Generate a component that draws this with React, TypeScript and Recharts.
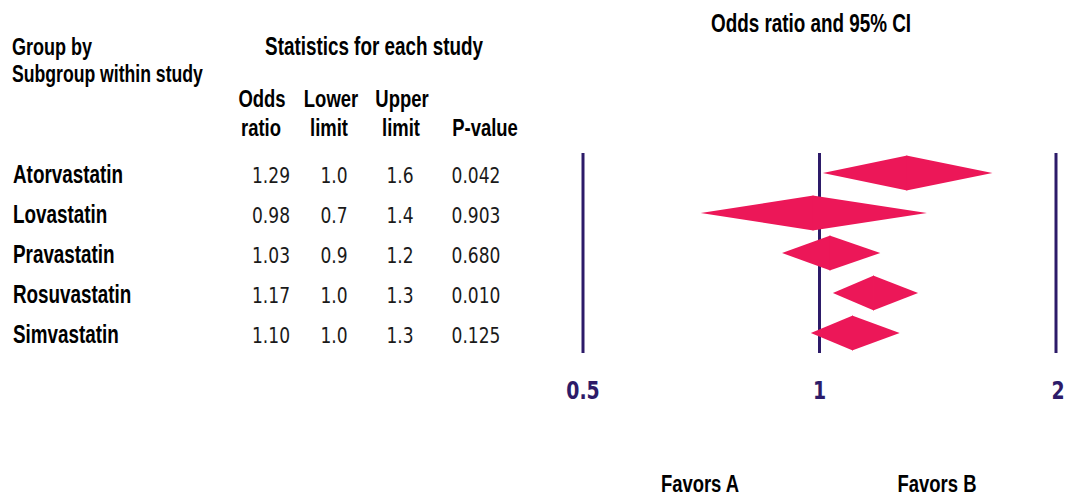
import React from 'react';
import { ComposedChart, XAxis, YAxis, CartesianGrid, ReferenceArea, Scatter } from 'recharts';

// rows of the forest plot
const studies = ['Atorvastatin', 'Lovastatin', 'Pravastatin', 'Rosuvastatin', 'Simvastatin'];

// diamond points as drawn in the picture
const oddsRatio = [1.29, 0.98, 1.03, 1.17, 1.1];
const lowerLimit = [1.01, 0.706, 0.896, 1.04, 0.975];
const upperLimit = [1.66, 1.37, 1.195, 1.335, 1.265];

// values printed in the table
const oddsText = ['1.29', '0.98', '1.03', '1.17', '1.10'];
const lowerText = ['1.0', '0.7', '0.9', '1.0', '1.0'];
const upperText = ['1.6', '1.4', '1.2', '1.3', '1.3'];
const pValues = ['0.042', '0.903', '0.680', '0.010', '0.125'];

const xTicks = [0.5, 1, 2];
const xTickLabels = ['0.5', '1', '2'];

const NAVY = '#2d1b69';
const PINK = '#ec1758';
const sans = "'Liberation Sans', Arial, sans-serif";
const numFont = "'DejaVu Sans Condensed', 'DejaVu Sans', sans-serif";
const HALF = 0.4375;

const rows = studies.map((name, i) => ({ name, row: i, or: oddsRatio[i] }));

// Liberation Sans squeezed to Arial Narrow proportions, a bit taller like the scan
const Narrow = ({ x, y, size, anchor = 'start', children }: any) => (
    <text
        transform={`translate(${x} ${y}) scale(0.82 1.1)`}
        fontFamily={sans}
        fontWeight="bold"
        fontSize={size}
        textAnchor={anchor}
        fill="#000"
    >
        {children}
    </text>
);

const Num = ({ x, y, children }: any) => (
    <text
        transform={`translate(${x} ${y}) scale(1 1.15)`}
        fontFamily={numFont}
        fontSize={19}
        textAnchor="middle"
        fill="#1a1a1a"
    >
        {children}
    </text>
);

const LeftHalf = (props: any) => {
    const { x, y, width, height } = props;
    const r = x + width + 0.8;
    const pts = `${x},${y + height / 2} ${r},${y} ${r},${y + height}`;
    return <polygon points={pts} fill={PINK} />;
};

const RightHalf = (props: any) => {
    const { x, y, width, height } = props;
    const pts = `${x},${y} ${x + width},${y + height / 2} ${x},${y + height}`;
    return <polygon points={pts} fill={PINK} />;
};

const RowTick = (props: any) => {
    const { y, payload } = props;
    const i = payload.value;
    return (
        <g>
            <Narrow x={13} y={y + 10} size={23}>{studies[i]}</Narrow>
            <Num x={271} y={y + 10}>{oddsText[i]}</Num>
            <Num x={334} y={y + 10}>{lowerText[i]}</Num>
            <Num x={400} y={y + 10}>{upperText[i]}</Num>
            <Num x={476} y={y + 10}>{pValues[i]}</Num>
        </g>
    );
};

const XTick = (props: any) => {
    const { x, y, payload } = props;
    const idx = xTicks.indexOf(payload.value);
    return (
        <text
            transform={`translate(${x + (idx === 2 ? 2 : 0)} ${y + 46}) scale(1 1.15)`}
            textAnchor="middle"
            fontFamily={numFont}
            fontWeight="bold"
            fontSize={21}
            fill={NAVY}
        >
            {xTickLabels[idx]}
        </text>
    );
};

const Headers = () => (
    <svg width={1073} height={502} style={{ position: 'absolute', left: 0, top: 0, pointerEvents: 'none' }}>
        <Narrow x={12} y={55} size={22}>Group by</Narrow>
        <Narrow x={12} y={82} size={21.5}>Subgroup within study</Narrow>
        <Narrow x={374} y={55} size={23} anchor="middle">Statistics for each study</Narrow>
        <Narrow x={262} y={107} size={22.5} anchor="middle">Odds</Narrow>
        <Narrow x={261} y={136} size={22.5} anchor="middle">ratio</Narrow>
        <Narrow x={331} y={107} size={22.5} anchor="middle">Lower</Narrow>
        <Narrow x={329} y={136} size={22.5} anchor="middle">limit</Narrow>
        <Narrow x={402} y={107} size={22.5} anchor="middle">Upper</Narrow>
        <Narrow x={401} y={136} size={22.5} anchor="middle">limit</Narrow>
        <Narrow x={485} y={136} size={22.5} anchor="middle">P-value</Narrow>
        <Narrow x={811} y={32} size={23} anchor="middle">Odds ratio and 95% CI</Narrow>
        <Narrow x={700} y={492} size={22.5} anchor="middle">Favors A</Narrow>
        <Narrow x={937} y={492} size={22.5} anchor="middle">Favors B</Narrow>
    </svg>
);

const App = () => {
    return (
        <div style={{ position: 'absolute', left: 0, top: 0, width: 1073, height: 502, background: '#fff' }}>
            <ComposedChart width={1073} height={502} data={rows} margin={{ top: 153, right: 17, bottom: 89, left: 0 }}>
                <CartesianGrid horizontal={false} stroke={NAVY} strokeWidth={3} strokeDasharray="" />
                <XAxis
                    type="number"
                    dataKey="or"
                    scale="log"
                    domain={[0.5, 2]}
                    ticks={xTicks}
                    allowDataOverflow
                    axisLine={false}
                    tickLine={false}
                    tickSize={0}
                    tickMargin={0}
                    height={60}
                    interval={0}
                    tick={<XTick />}
                />
                <YAxis
                    type="number"
                    dataKey="row"
                    domain={[-0.5, 4.5]}
                    ticks={rows.map((r) => r.row)}
                    reversed
                    allowDataOverflow
                    axisLine={false}
                    tickLine={false}
                    width={583}
                    interval={0}
                    tick={<RowTick />}
                />
                {rows.map((r, i) => (
                    <ReferenceArea
                        key={`l${i}`}
                        x1={lowerLimit[i]}
                        x2={oddsRatio[i]}
                        y1={r.row - HALF}
                        y2={r.row + HALF}
                        shape={<LeftHalf />}
                    />
                ))}
                {rows.map((r, i) => (
                    <ReferenceArea
                        key={`r${i}`}
                        x1={oddsRatio[i]}
                        x2={upperLimit[i]}
                        y1={r.row - HALF}
                        y2={r.row + HALF}
                        shape={<RightHalf />}
                    />
                ))}
                <Scatter dataKey="row" isAnimationActive={false} shape={() => <g />} />
            </ComposedChart>
            <Headers />
        </div>
    );
};

export default App;
